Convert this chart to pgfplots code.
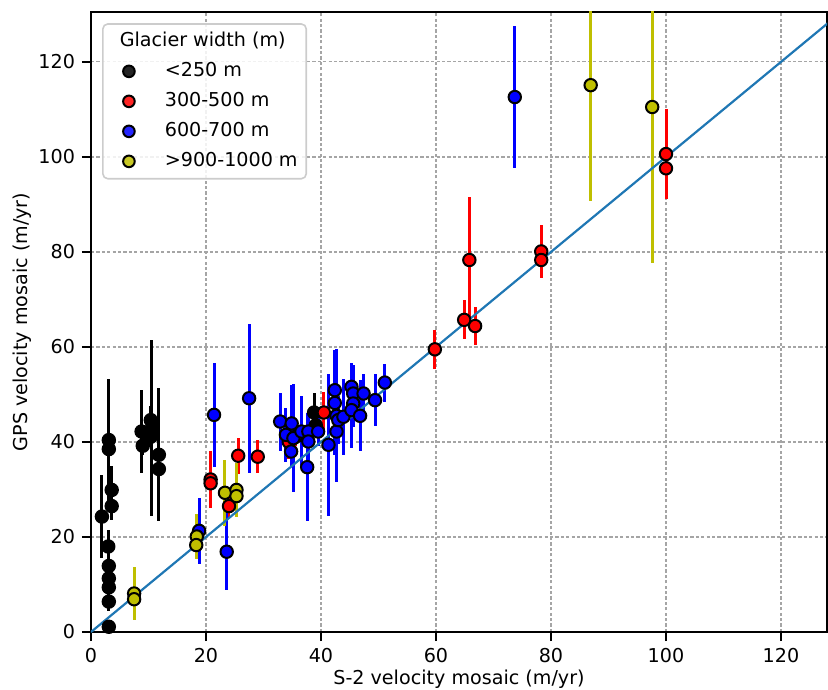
\documentclass[border=0pt]{standalone}
\usepackage{fontspec}
\setmainfont{DejaVu Sans}
\usepackage{pgfplots}
\pgfplotsset{compat=1.18}

\definecolor{mplblue}{RGB}{31,119,180}
\definecolor{oliveY}{RGB}{191,191,0}
\definecolor{gridgray}{RGB}{165,165,165}

\newcommand{\lbl}{\fontsize{9.6}{11.5}\selectfont}

\begin{document}
\begin{tikzpicture}
\begin{axis}[
    scale only axis,
    width=368bp, height=310bp,
    xmin=0, xmax=128, ymin=0, ymax=130.5,
    xtick={0,20,...,120}, ytick={0,20,...,120},
    xtick pos=bottom, ytick pos=left,
    tick align=outside,
    major tick length=4.5bp,
    tick style={line width=1bp, black},
    axis line style={line width=1bp},
    grid=major,
    grid style={gridgray, line width=0.6bp, dash pattern=on 1.6bp off 1.1bp},
    tick label style={font=\lbl},
    /pgf/number format/assume math mode=true,
    label style={font=\lbl},
    xlabel={S-2 velocity mosaic (m/yr)},
    ylabel={GPS velocity mosaic (m/yr)},
    xlabel shift=-3bp,
    ylabel shift=-3.5bp,
    every axis plot/.append style={only marks, mark=*, mark size=3.1bp,
        line width=1.5bp},
    error bars/error bar style={line width=1.5bp, solid},
    legend style={at={(0.015,0.982)}, anchor=north west, font=\lbl,
        draw=black!20, line width=0.8bp, rounded corners=2.5bp,
        fill=white, fill opacity=0.85, text opacity=1,
        inner xsep=2.8bp, inner ysep=1.2bp,
        nodes={inner xsep=1.5bp, inner ysep=3.05bp, text height=7bp, text depth=1.9bp}},
    legend cell align=left,
    legend image code/.code={
        \path (0bp,0bp) (25.2bp,0bp);
        \path[#1, mark size=2.9bp] plot coordinates {(9.5bp,0bp)};
    },
]
\addlegendimage{empty legend}
\addlegendentry{\hspace*{-22.5bp}Glacier width (m)}

% <250 m
\addplot[color=black, mark options={draw=black, fill=black, line width=1bp},
    error bars/.cd, y dir=both, y explicit, error mark=none]
table[x=x, y=y, y error=e] {
x y e
1.9 24.3 8.8
3.1 40.4 12.8
3.1 38.5 6.0
3.6 29.9 5.0
3.6 26.5 3.0
3.0 18.0 3.5
3.1 13.9 2.0
3.1 11.3 2.0
3.1 9.4 2.0
3.1 6.4 2.0
3.1 1.1 1.0
8.8 42.2 8.8
9.0 39.2 2.0
10.4 44.6 3.0
10.6 42.9 18.5
10.4 41.1 2.0
11.8 37.3 14.0
11.8 34.3 3.0
38.8 46.2 4.2
39.1 43.5 1.5
};
\addlegendentry{<250 m}

% 300-500 m
\addplot[color=red, mark options={draw=black, fill=red, line width=1bp},
    error bars/.cd, y dir=both, y explicit, error mark=none]
table[x=x, y=y, y error=e] {
x y e
20.8 32.1 6.0
20.8 31.3 1.5
24.0 26.5 2.7
25.6 37.1 3.8
29.0 36.9 3.5
34.4 40.0 3.6
35.6 41.1 2.0
40.5 46.2 4.4
59.8 59.5 4.1
64.9 65.7 4.1
65.8 78.3 13.2
66.8 64.4 4.0
78.3 80.1 5.6
78.3 78.3 2.0
100.0 100.6 9.5
100.0 97.6 2.0
};
\addlegendentry{300-500 m}

% 600-700 m
\addplot[color=blue, mark options={draw=black, fill=blue, line width=1bp},
    error bars/.cd, y dir=both, y explicit, error mark=none]
table[x=x, y=y, y error=e] {
x y e
18.8 21.3 7.0
23.6 16.9 8.1
21.4 45.7 11.0
27.5 49.2 15.7
32.9 44.3 6.1
33.9 41.5 5.7
34.9 43.9 8.0
35.2 40.8 11.3
34.8 38.0 3.0
36.6 42.2 7.5
37.8 42.2 4.0
37.8 40.1 6.0
37.6 34.7 11.3
39.5 42.2 3.0
41.3 39.4 15.0
42.4 50.9 8.5
42.4 48.2 11.0
42.7 45.5 14.0
42.7 42.2 4.0
43.0 44.6 5.0
43.9 45.3 8.0
45.3 51.6 5.0
45.6 50.2 6.0
47.4 50.2 4.0
45.6 48.1 5.0
45.3 46.7 8.0
46.8 45.5 7.5
49.4 48.8 5.5
51.1 52.5 4.0
73.7 112.6 15.0
};
\addlegendentry{600-700 m}

% >900-1000 m
\addplot[color=oliveY, mark options={draw=black, fill=oliveY, line width=1bp},
    error bars/.cd, y dir=both, y explicit, error mark=none]
table[x=x, y=y, y error=e] {
x y e
7.5 8.1 5.6
7.5 6.9 1.0
18.4 20.1 4.7
18.3 18.3 1.5
23.3 29.3 7.0
25.3 29.9 5.7
25.3 28.6 2.0
86.9 115.1 24.3
97.6 110.5 32.8
};
\addlegendentry{>900-1000 m}

% 1:1 line
\addplot[color=mplblue, line width=1.1bp, mark=none, sharp plot, forget plot]
coordinates {(0,0) (130,130)};
\end{axis}
\pgfresetboundingbox
\path[use as bounding box] (-45.5bp,-29bp) rectangle (368.5bp,316bp);
\end{tikzpicture}
\end{document}
